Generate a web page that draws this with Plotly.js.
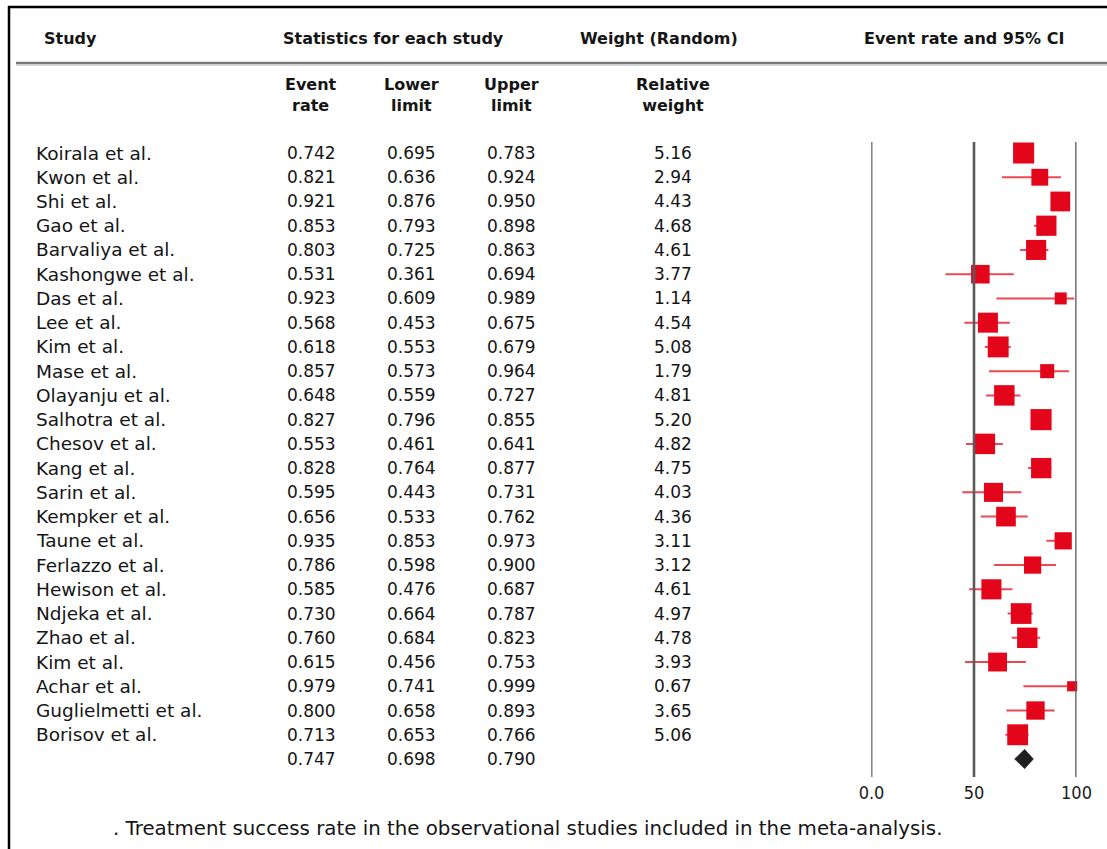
<!DOCTYPE html>
<html>
<head>
<meta charset="utf-8">
<script src="https://cdn.plot.ly/plotly-3.0.1.min.js"></script>
<style>html,body{margin:0;padding:0;background:#fff;}#chart{width:1107px;height:849px;}</style>
</head>
<body>
<div id="chart"></div>
<script>
// ---- data ----
const studies = ["Koirala et al.","Kwon et al.","Shi et al.","Gao et al.","Barvaliya et al.","Kashongwe et al.","Das et al.","Lee et al.","Kim et al.","Mase et al.","Olayanju et al.","Salhotra et al.","Chesov et al.","Kang et al.","Sarin et al.","Kempker et al.","Taune et al.","Ferlazzo et al.","Hewison et al.","Ndjeka et al.","Zhao et al.","Kim et al.","Achar et al.","Guglielmetti et al.","Borisov et al."];
const eventRate = [0.742,0.821,0.921,0.853,0.803,0.531,0.923,0.568,0.618,0.857,0.648,0.827,0.553,0.828,0.595,0.656,0.935,0.786,0.585,0.730,0.760,0.615,0.979,0.800,0.713];
const lowerLimit = [0.695,0.636,0.876,0.793,0.725,0.361,0.609,0.453,0.553,0.573,0.559,0.796,0.461,0.764,0.443,0.533,0.853,0.598,0.476,0.664,0.684,0.456,0.741,0.658,0.653];
const upperLimit = [0.783,0.924,0.950,0.898,0.863,0.694,0.989,0.675,0.679,0.964,0.727,0.855,0.641,0.877,0.731,0.762,0.973,0.900,0.687,0.787,0.823,0.753,0.999,0.893,0.766];
const relWeight = [5.16,2.94,4.43,4.68,4.61,3.77,1.14,4.54,5.08,1.79,4.81,5.20,4.82,4.75,4.03,4.36,3.11,3.12,4.61,4.97,4.78,3.93,0.67,3.65,5.06];
const summaryRate = 0.747, summaryLower = 0.698, summaryUpper = 0.790;
const tickVals = [0, 0.5, 1];
const tickText = ["0.0", "50", "100"];
const caption = ". Treatment success rate in the observational studies included in the meta-analysis.";

// ---- layout helpers ----
const W = 1107, H = 849;
const FONT = "DejaVu Sans, Verdana, sans-serif";
const row0 = 153, rowH = 24.24;
const yTop = -row0 / rowH, yBot = (H - row0) / rowH;
const px = v => v / W;
const py = v => 1 - v / H;
const fmt = v => v.toFixed(3);
const n = studies.length;
const rows = studies.map((_, i) => i);
const sumRow = n;

// CI lines
const ciX = [], ciY = [];
for (let i = 0; i < n; i++) { ciX.push(lowerLimit[i], upperLimit[i], null); ciY.push(i, i, null); }

const traces = [
  {type: "scatter", mode: "lines", x: ciX, y: ciY, line: {color: "rgba(230,40,52,0.85)", width: 2}, hoverinfo: "skip", cliponaxis: false},
  {type: "scatter", mode: "markers", x: eventRate, y: rows,
   marker: {symbol: "square", color: "#e3061b", opacity: 1, size: relWeight.map(w => 4 + 7.5 * Math.sqrt(w)), line: {width: 0}}, cliponaxis: false},
  {type: "scatter", mode: "lines", fill: "toself", fillcolor: "#1f1f1f",
   x: [summaryLower, summaryRate, summaryUpper, summaryRate, summaryLower],
   y: [sumRow, sumRow - 0.4, sumRow, sumRow + 0.4, sumRow], line: {color: "#1f1f1f", width: 0.5}, cliponaxis: false}
];

const ann = [];
const txt = (text, x, y, opts) => Object.assign({text, x: px(x), y, xref: "paper", yref: "y", showarrow: false,
  xanchor: "center", yanchor: "middle", font: {family: FONT, size: 17, color: "#151515"}}, opts || {});
const hdr = (text, x, y, anchor) => ({text, x: px(x), y: py(y), xref: "paper", yref: "paper", showarrow: false,
  xanchor: anchor || "center", yanchor: "middle", font: {family: FONT, size: 16, color: "#151515", weight: "bold"}});

ann.push(hdr("Study", 42, 39, "left"));
ann.push(hdr("Statistics for each study", 393, 39));
ann.push(hdr("Weight (Random)", 659, 39));
ann.push(hdr("Event rate and 95% CI", 964, 39));
ann.push(hdr("Event<br>rate", 311, 95));
ann.push(hdr("Lower<br>limit", 411, 95));
ann.push(hdr("Upper<br>limit", 511, 95));
ann.push(hdr("Relative<br>weight", 673, 95));

for (let i = 0; i < n; i++) {
  ann.push(txt(studies[i], 34, i, {xanchor: "left", font: {family: FONT, size: 18.5, color: "#151515"}}));
  ann.push(txt(fmt(eventRate[i]), 311, i));
  ann.push(txt(fmt(lowerLimit[i]), 411, i));
  ann.push(txt(fmt(upperLimit[i]), 511, i));
  ann.push(txt(relWeight[i].toFixed(2), 673, i));
}
ann.push(txt(fmt(summaryRate), 311, sumRow));
ann.push(txt(fmt(summaryLower), 411, sumRow));
ann.push(txt(fmt(summaryUpper), 511, sumRow));
ann.push({text: caption, x: px(111), y: py(828), xref: "paper", yref: "paper", showarrow: false,
  xanchor: "left", yanchor: "middle", font: {family: FONT, size: 19.8, color: "#151515"}});

const vTop = (142 - row0) / rowH, vBot = (777 - row0) / rowH;
const shapes = [
  // frame
  {type: "line", xref: "paper", yref: "paper", x0: px(8), x1: 1, y0: py(7), y1: py(7), line: {color: "#000", width: 2.5}},
  {type: "line", xref: "paper", yref: "paper", x0: px(9), x1: px(9), y0: py(6), y1: 0, line: {color: "#000", width: 2.5}},
  // header rule
  {type: "line", xref: "paper", yref: "paper", x0: px(16), x1: 1, y0: py(63), y1: py(63), line: {color: "#7a7a7a", width: 2.5}},
  {type: "line", xref: "paper", yref: "paper", x0: px(16), x1: 1, y0: py(65), y1: py(65), line: {color: "#c8c8c8", width: 1.5}},
];
tickVals.forEach((v, k) => shapes.push({type: "line", xref: "x", yref: "y", x0: v, x1: v, y0: vTop, y1: vBot,
  line: {color: k === 0 ? "#111" : "#5a5a5a", width: k === 0 ? 1.6 : 2.6}}));

const layout = {
  width: W, height: H, margin: {l: 0, r: 0, t: 0, b: 0}, paper_bgcolor: "#fff", plot_bgcolor: "rgba(0,0,0,0)",
  showlegend: false,
  xaxis: {domain: [871.5 / W, 1076.5 / W], range: [0, 1], fixedrange: true, anchor: "free", position: 1 - 777 / H,
    tickvals: tickVals, ticktext: tickText, showgrid: false, zeroline: false, showline: false, ticks: "",
    ticklabelstandoff: 3,
    tickfont: {family: "DejaVu Sans Condensed, DejaVu Sans, sans-serif", size: 18, color: "#1a1a1a"}},
  yaxis: {domain: [0, 1], range: [yBot, yTop], showgrid: false, zeroline: false, showticklabels: false, showline: false, fixedrange: true},
  annotations: ann, shapes: shapes
};
Plotly.newPlot("chart", traces, layout, {staticPlot: true, displayModeBar: false});
</script>
</body>
</html>
